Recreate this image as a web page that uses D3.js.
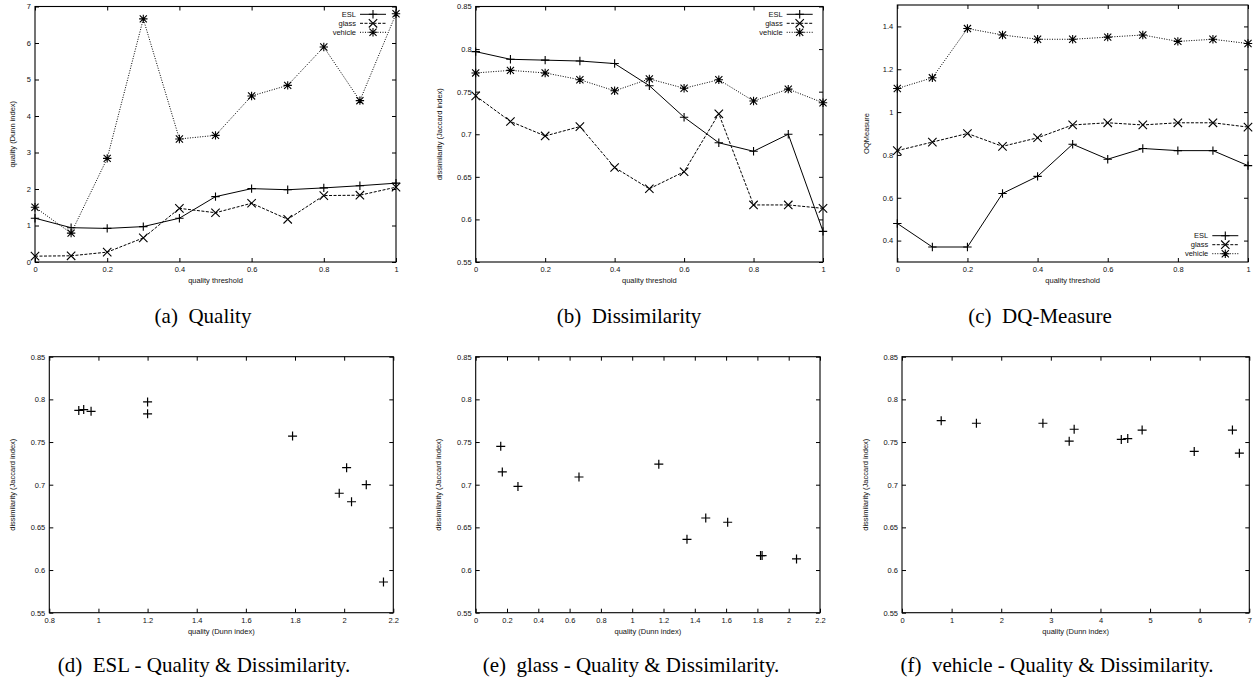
<!DOCTYPE html>
<html>
<head>
<meta charset="utf-8">
<script src="https://cdn.jsdelivr.net/npm/d3@7"></script>
<style>
  html, body { margin: 0; padding: 0; background: #fff; }
  svg { display: block; }
  .tick text, .lbl { font-family: "Liberation Sans", Arial, Helvetica, sans-serif; font-size: 7.5px; fill: #111; }
  .cap { font-family: "Liberation Serif", "Times New Roman", serif; font-size: 21px; fill: #000; white-space: pre; }
</style>
</head>
<body>
<svg id="chart" width="1257" height="681"></svg>
<script>
// ---------------- data ----------------
const thresholds = [0, 0.1, 0.2, 0.3, 0.4, 0.5, 0.6, 0.7, 0.8, 0.9, 1];
const seriesNames = ["ESL", "glass", "vehicle"];

const eslQuality     = [1.20, 0.94, 0.92, 0.97, 1.20, 1.79, 2.01, 1.98, 2.03, 2.09, 2.16];
const glassQuality   = [0.16, 0.17, 0.27, 0.66, 1.47, 1.35, 1.61, 1.17, 1.82, 1.83, 2.05];
const vehicleQuality = [1.50, 0.79, 2.84, 6.66, 3.37, 3.47, 4.55, 4.84, 5.89, 4.42, 6.80];

const eslDissim     = [0.797, 0.788, 0.787, 0.786, 0.783, 0.757, 0.720, 0.690, 0.680, 0.700, 0.586];
const glassDissim   = [0.745, 0.715, 0.698, 0.709, 0.661, 0.636, 0.656, 0.724, 0.617, 0.617, 0.613];
const vehicleDissim = [0.772, 0.775, 0.772, 0.764, 0.751, 0.765, 0.754, 0.764, 0.739, 0.753, 0.737];

const eslDQ     = [0.48, 0.37, 0.37, 0.62, 0.70, 0.85, 0.78, 0.83, 0.82, 0.82, 0.75];
const glassDQ   = [0.82, 0.86, 0.90, 0.84, 0.88, 0.94, 0.95, 0.94, 0.95, 0.95, 0.93];
const vehicleDQ = [1.11, 1.16, 1.39, 1.36, 1.34, 1.34, 1.35, 1.36, 1.33, 1.34, 1.32];

// tick labels
const thresholdTicks      = [0, 0.2, 0.4, 0.6, 0.8, 1];
const qualityTicks        = [0, 1, 2, 3, 4, 5, 6, 7];
const dissimTicks         = [0.55, 0.6, 0.65, 0.7, 0.75, 0.8, 0.85];
const dqTicks             = [0.4, 0.6, 0.8, 1, 1.2, 1.4];
const eslQualityTicks     = [0.8, 1, 1.2, 1.4, 1.6, 1.8, 2, 2.2];
const glassQualityTicks   = [0, 0.2, 0.4, 0.6, 0.8, 1, 1.2, 1.4, 1.6, 1.8, 2, 2.2];
const vehicleQualityTicks = [0, 1, 2, 3, 4, 5, 6, 7];

const captions = ["(a)  Quality", "(b)  Dissimilarity", "(c)  DQ-Measure",
  "(d)  ESL - Quality & Dissimilarity.", "(e)  glass - Quality & Dissimilarity.",
  "(f)  vehicle - Quality & Dissimilarity."];

// ---------------- drawing ----------------
const svg = d3.select("#chart");
const fmt = d3.format("~g");

const markerPath = {
  plus: s => `M${-s},0H${s}M0,${-s}V${s}`,
  cross: s => `M${-s},${-s}L${s},${s}M${-s},${s}L${s},${-s}`,
  star: s => `M${-s},0H${s}M0,${-s}V${s}M${-s*0.85},${-s*0.85}L${s*0.85},${s*0.85}M${-s*0.85},${s*0.85}L${s*0.85},${-s*0.85}`
};
const styles = [
  { marker: "plus", dash: null },
  { marker: "cross", dash: "3,1.5" },
  { marker: "star", dash: "1,1.5" }
];

function frameAxes(g, x, y, xt, yt, w, h) {
  const tk = 4;
  g.append("g").attr("transform", `translate(0,${h})`)
    .call(d3.axisBottom(x).tickValues(xt).tickFormat(fmt).tickSizeInner(-tk).tickSizeOuter(0).tickPadding(5))
    .call(a => a.select(".domain").remove());
  g.append("g")
    .call(d3.axisTop(x).tickValues(xt).tickFormat("").tickSizeInner(-tk).tickSizeOuter(0))
    .call(a => a.select(".domain").remove());
  g.append("g")
    .call(d3.axisLeft(y).tickValues(yt).tickFormat(fmt).tickSizeInner(-tk).tickSizeOuter(0).tickPadding(4))
    .call(a => a.select(".domain").remove());
  g.append("g").attr("transform", `translate(${w},0)`)
    .call(d3.axisRight(y).tickValues(yt).tickFormat("").tickSizeInner(-tk).tickSizeOuter(0))
    .call(a => a.select(".domain").remove());
  g.selectAll(".tick line").attr("stroke", "#000").attr("stroke-width", 1);
  g.selectAll(".tick text").attr("font-size", null).attr("font-family", null).attr("fill", null);
  g.append("rect").attr("width", w).attr("height", h)
    .attr("fill", "none").attr("stroke", "#000").attr("stroke-width", 1.1);
}

function panel(box, xd, yd, xt, yt, xlab, ylab, ylabX) {
  const w = box.r - box.l, h = box.b - box.t;
  const g = svg.append("g").attr("transform", `translate(${box.l},${box.t})`);
  const x = d3.scaleLinear().domain(xd).range([0, w]);
  const y = d3.scaleLinear().domain(yd).range([h, 0]);
  frameAxes(g, x, y, xt, yt, w, h);
  g.append("text").attr("class", "lbl").attr("x", w / 2).attr("y", h + 21)
    .attr("text-anchor", "middle").text(xlab);
  g.append("text").attr("class", "lbl")
    .attr("transform", `translate(${ylabX - box.l},${h / 2}) rotate(-90)`)
    .attr("text-anchor", "middle").attr("dy", "0.35em").text(ylab);
  return { g, x, y, w, h };
}

function linePanel(box, seriesList, yd, yt, ylab, ylabX, legend) {
  const p = panel(box, [0, 1], yd, thresholdTicks, yt, "quality threshold", ylab, ylabX);
  const line = d3.line().x((d, i) => p.x(thresholds[i])).y(d => p.y(d));
  seriesList.forEach((vals, si) => {
    const st = styles[si];
    p.g.append("path").datum(vals).attr("d", line)
      .attr("fill", "none").attr("stroke", "#000").attr("stroke-width", 1)
      .attr("stroke-dasharray", st.dash);
    p.g.append("g").selectAll("path").data(vals).join("path")
      .attr("transform", (d, i) => `translate(${p.x(thresholds[i])},${p.y(d)})`)
      .attr("d", markerPath[st.marker](4.2))
      .attr("fill", "none").attr("stroke", "#000").attr("stroke-width", 1.1);
  });
  // legend
  const lg = p.g.append("g").attr("transform", `translate(${legend.x},${legend.y})`);
  seriesNames.forEach((name, si) => {
    const st = styles[si];
    const yy = si * 9;
    lg.append("text").attr("class", "lbl").attr("x", -4).attr("y", yy).attr("dy", "0.35em")
      .attr("text-anchor", "end").text(name);
    lg.append("line").attr("x1", 0).attr("x2", 26).attr("y1", yy).attr("y2", yy)
      .attr("stroke", "#000").attr("stroke-width", 1).attr("stroke-dasharray", st.dash);
    lg.append("path").attr("transform", `translate(13,${yy})`)
      .attr("d", markerPath[st.marker](4.2))
      .attr("fill", "none").attr("stroke", "#000").attr("stroke-width", 1.1);
  });
}

function scatterPanel(box, xs, ys, xd, xt, ylabX) {
  const p = panel(box, xd, [0.55, 0.85], xt, dissimTicks, "quality (Dunn index)", "dissimilarity (Jaccard index)", ylabX);
  p.g.append("g").selectAll("path").data(xs).join("path")
    .attr("transform", (d, i) => `translate(${p.x(d)},${p.y(ys[i])})`)
    .attr("d", markerPath.plus(4.5))
    .attr("fill", "none").attr("stroke", "#000").attr("stroke-width", 1.2);
}

// top row
linePanel({ l: 35, r: 396, t: 6.5, b: 262 }, [eslQuality, glassQuality, vehicleQuality],
  [0, 7], qualityTicks, "quality (Dunn index)", 12, { x: 325, y: 7.8 });
linePanel({ l: 475.7, r: 823, t: 6.5, b: 262 }, [eslDissim, glassDissim, vehicleDissim],
  [0.55, 0.85], dissimTicks, "dissimilarity (Jaccard index)", 439, { x: 311, y: 7.8 });
linePanel({ l: 897.3, r: 1248, t: 5, b: 262 }, [eslDQ, glassDQ, vehicleDQ],
  [0.3, 1.5], dqTicks, "OQMeasure", 866, { x: 315, y: 230.7 });

// bottom row
scatterPanel({ l: 49.3, r: 393.3, t: 356.7, b: 612.7 }, eslQuality, eslDissim, [0.8, 2.2], eslQualityTicks, 12);
scatterPanel({ l: 475.7, r: 820, t: 356.7, b: 612.7 }, glassQuality, glassDissim, [0, 2.2], glassQualityTicks, 438);
scatterPanel({ l: 902, r: 1249.3, t: 356.7, b: 612.7 }, vehicleQuality, vehicleDissim, [0, 7], vehicleQualityTicks, 865);

// captions
const capPos = [[203, 323], [629, 323], [1040, 323], [204, 672], [631, 672], [1057, 672]];
svg.selectAll("text.cap").data(captions).join("text").attr("class", "cap")
  .attr("x", (d, i) => capPos[i][0]).attr("y", (d, i) => capPos[i][1])
  .attr("text-anchor", "middle").text(d => d);
</script>
</body>
</html>
